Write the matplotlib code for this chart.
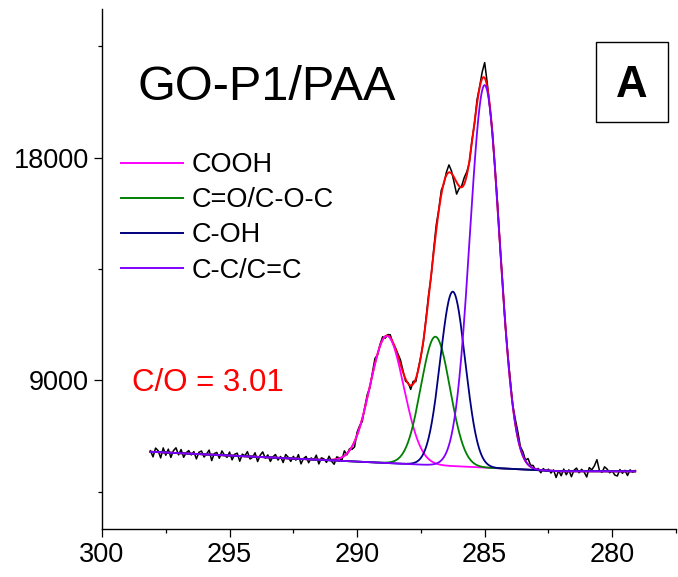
import numpy as np
import matplotlib
matplotlib.use("Agg")
import matplotlib.pyplot as plt
from matplotlib.ticker import MultipleLocator
from matplotlib.patches import Rectangle

plt.rcParams['font.family'] = ['Liberation Sans', 'DejaVu Sans']

# C1s peak components (binding energy in eV, height above background, gaussian sigma)
labels = ['COOH', 'C=O/C-O-C', 'C-OH', 'C-C/C=C']
centers = [288.83, 286.93, 286.25, 285.00]
heights = [5130, 5195, 7046, 15450]
sigmas = [0.66, 0.57, 0.49, 0.58]
colors = ['#FF00FF', '#008000', '#000080', '#8000FF']

# Minor fit term included in the envelope but not drawn as its own curve
extra_center = 286.75
extra_height = 1300
extra_sigma = 0.42

# Linear background: flat below the knee, rising towards high binding energy
bg_floor = 5330
bg_slope = 49
bg_knee = 282.0

# Measured counts minus fitted envelope, 0.1 eV steps from 298.1 eV downwards
resid_high = [40, -200, 160, 60, -230, 180, -110, 140, -190, 90,
              210, -70, 150, -160, 30, 120, -50, 90, -200, 70,
              130, -110, 20, 180, -240, 50, 100, -130, 170, 10,
              -80, 140, -170, 60, 110, -210, 80, 20, 190, -100,
              -30, 160, -190, 70, 210, -40, 100, -160, 30, 130,
              -90, 60, -180, 150, 40, -120, 90, -60, 170, -200,
              20, 110, -140, 60, -30, 180, -170, 80, 40, -100,
              150, -60, -190, 90, 30, -130, 200, -50, 70, -110,
              -220, 120]
resid_peak = [80, -120, 60, 140, -60, 90, 220, -40, 60, 120,
              -80, 40, 110, -50, 30, 90, 180, 60, -90, 40,
              -160, 110, -120, 50, 20, -60, 90, 150, -40, 120,
              220, 60, 180, -50, 120, 300, 100, -200, -480, -90,
              60, 260, 140, -60, 110, -40, 160, 40, 260, 620,
              160, -90, 40, -60, 110, -30, 70, -80, 50, 130,
              40, 210, 260, 80, 170, 40, 240, 60, 110, -40,
              50, -110, 70, -30, 60, -90, 40, -260, 20]
resid_low = [-180, 90, -140, 60, -220, 40, 130, -60, 80, -30,
             -230, 150, 60, 220, 470, 30, -40, 180, 90, -60,
             20, -150, -190, 70, -80, 40, -170, 60, -40, 30]

resid = np.array(resid_high + resid_peak + resid_low, dtype=float)
energy = np.round(298.1 - 0.1 * np.arange(len(resid)), 1)
fine = np.linspace(energy.min(), energy.max(), 1200)


def background(e):
    return bg_floor + bg_slope * np.clip(e - bg_knee, 0, None)


def component(e, c, h, s):
    return h * np.exp(-0.5 * ((e - c) / s) ** 2)


def envelope(e):
    total = background(e) + component(e, extra_center, extra_height, extra_sigma)
    for c, h, s in zip(centers, heights, sigmas):
        total = total + component(e, c, h, s)
    return total


raw = envelope(energy) + resid

W, H = 678, 577
fig = plt.figure(figsize=(W / 100, H / 100), dpi=100)
ax = fig.add_axes([102 / W, (H - 529) / H, (676 - 102) / W, (529 - 9) / H])

ax.plot(energy, raw, color='black', lw=1.1, zorder=2)
ax.plot(fine, envelope(fine), color='red', lw=1.4, zorder=3)
for lab, c, h, s, col in zip(labels, centers, heights, sigmas, colors):
    ax.plot(fine, background(fine) + component(fine, c, h, s),
            color=col, lw=1.3, label=lab, zorder=4)

ax.set_xlim(300, 277.5)
ax.set_ylim(3000, 24000)
ax.xaxis.set_major_locator(MultipleLocator(5))
ax.xaxis.set_minor_locator(MultipleLocator(2.5))
ax.yaxis.set_major_locator(MultipleLocator(9000))
ax.yaxis.set_minor_locator(MultipleLocator(4500))

for side in ('top', 'right'):
    ax.spines[side].set_visible(False)
for side in ('left', 'bottom'):
    ax.spines[side].set_linewidth(1.0)
ax.tick_params(which='major', direction='out', length=5.8, width=0.9,
               labelsize=19.5, pad=3.5)
ax.tick_params(which='minor', direction='out', length=3.2, width=0.9)

leg = ax.legend(loc='upper left', bbox_to_anchor=(120.7 / W, 1 - 152 / H),
                bbox_transform=fig.transFigure, frameon=False, fontsize=19.5,
                handlelength=2.3, handletextpad=0.32, labelspacing=0.34,
                borderpad=0, borderaxespad=0)
for line in leg.get_lines():
    line.set_linewidth(1.4)

fig.text(138 / W, 1 - 100 / H, 'GO-P1/PAA', fontsize=35, ha='left',
         va='baseline')
fig.text(132 / W, 1 - 383 / H, 'C/O = 3.01', fontsize=22.5, color='red',
         ha='left', va='center')

box = Rectangle((596 / W, 1 - 121.7 / H), (668.3 - 596) / W, 80 / H,
                transform=fig.transFigure, fill=False, lw=1.0,
                edgecolor='black')
fig.add_artist(box)
fig.text(632 / W, 1 - 85.5 / H, 'A', fontsize=31.5, fontweight='bold',
         ha='center', va='center')

fig.savefig('out.png', dpi=100)
